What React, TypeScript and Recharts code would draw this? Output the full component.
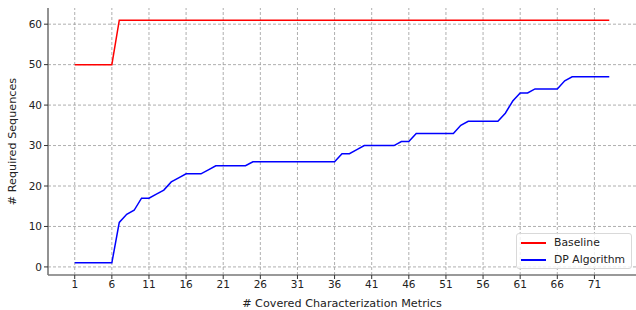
import React from "react";
import { LineChart, Line, XAxis, YAxis, ReferenceLine, Legend, Label } from "recharts";

const metrics = [1,2,3,4,5,6,7,8,9,10,11,12,13,14,15,16,17,18,19,20,21,22,23,24,25,26,27,28,29,30,31,32,33,34,35,36,37,38,39,40,41,42,43,44,45,46,47,48,49,50,51,52,53,54,55,56,57,58,59,60,61,62,63,64,65,66,67,68,69,70,71,72,73];
const baseline = [50,50,50,50,50,50,61,61,61,61,61,61,61,61,61,61,61,61,61,61,61,61,61,61,61,61,61,61,61,61,61,61,61,61,61,61,61,61,61,61,61,61,61,61,61,61,61,61,61,61,61,61,61,61,61,61,61,61,61,61,61,61,61,61,61,61,61,61,61,61,61,61,61];
const dpAlgorithm = [1,1,1,1,1,1,11,13,14,17,17,18,19,21,22,23,23,23,24,25,25,25,25,25,26,26,26,26,26,26,26,26,26,26,26,26,28,28,29,30,30,30,30,30,31,31,33,33,33,33,33,33,35,36,36,36,36,36,38,41,43,43,44,44,44,44,46,47,47,47,47,47,47];
const xTicks = [1,6,11,16,21,26,31,36,41,46,51,56,61,66,71];
const yTicks = [0,10,20,30,40,50,60];

const data = metrics.map((m, i) => ({ x: m, baseline: baseline[i], dp: dpAlgorithm[i] }));

const FONT = "'DejaVu Sans', sans-serif";
const GRID = { stroke: "#9a9a9a", strokeDasharray: "3 2", strokeWidth: 0.8 };

const LegendBox = () => (
  <div
    style={{
      position: "absolute",
      left: 516,
      top: 233,
      width: 116,
      height: 36,
      border: "1px solid #d9d9d9",
      borderRadius: 3,
      background: "rgba(255,255,255,0.8)",
      fontFamily: FONT,
      fontSize: 10.8,
      color: "#222",
      boxSizing: "border-box",
    }}
  >
    {[
      { c: "#ff0000", t: "Baseline" },
      { c: "#0000ff", t: "DP Algorithm" },
    ].map((it, i) => (
      <div key={i} style={{ position: "absolute", left: 4, top: 1 + i * 17, height: 15, display: "flex", alignItems: "center" }}>
        <div style={{ width: 25, height: 2, background: it.c, flexShrink: 0 }} />
        <span style={{ marginLeft: 8, whiteSpace: "nowrap" }}>{it.t}</span>
      </div>
    ))}
  </div>
);

export default function App() {
  return (
    <div style={{ position: "absolute", left: 0, top: 0, width: 636, height: 310, background: "#fff" }}>
      <LineChart width={636} height={310} data={data} margin={{ top: 8, right: 0, bottom: 0, left: 0 }}>
        <XAxis
          dataKey="x"
          type="number"
          domain={[-2.6, 76.6]}
          ticks={xTicks}
          allowDataOverflow
          height={35}
          interval={0}
          tickSize={4}
          tick={{ fontFamily: FONT, fontSize: 10.5, fill: "#222" }}
          tickLine={{ stroke: "#333" }}
          axisLine={{ stroke: "#777", strokeWidth: 1.6 }}
        >
          <Label value="# Covered Characterization Metrics" position="insideBottom" offset={3} style={{ fontFamily: FONT, fontSize: 11.2, fill: "#222" }} />
        </XAxis>
        <YAxis
          type="number"
          domain={[-2, 64]}
          ticks={yTicks}
          allowDataOverflow
          width={48}
          interval={0}
          tickSize={4}
          tick={{ fontFamily: FONT, fontSize: 10.5, fill: "#222" }}
          tickLine={{ stroke: "#333" }}
          axisLine={{ stroke: "#777", strokeWidth: 1.6 }}
        >
          <Label value="# Required Sequences" angle={-90} position="insideLeft" offset={12} style={{ fontFamily: FONT, fontSize: 11.2, fill: "#222", textAnchor: "middle" }} />
        </YAxis>
        {yTicks.map((t) => (
          <ReferenceLine key={"y" + t} y={t} {...GRID} />
        ))}
        {xTicks.map((t) => (
          <ReferenceLine key={"x" + t} x={t} {...GRID} />
        ))}
        <Legend content={() => <LegendBox />} wrapperStyle={{ position: "absolute", left: 0, top: 0, width: 0, height: 0 }} />
        <Line name="Baseline" dataKey="baseline" type="linear" stroke="#ff0000" strokeWidth={1.5} dot={false} isAnimationActive={false} />
        <Line name="DP Algorithm" dataKey="dp" type="linear" stroke="#0000ff" strokeWidth={1.5} dot={false} isAnimationActive={false} />
      </LineChart>
    </div>
  );
}
